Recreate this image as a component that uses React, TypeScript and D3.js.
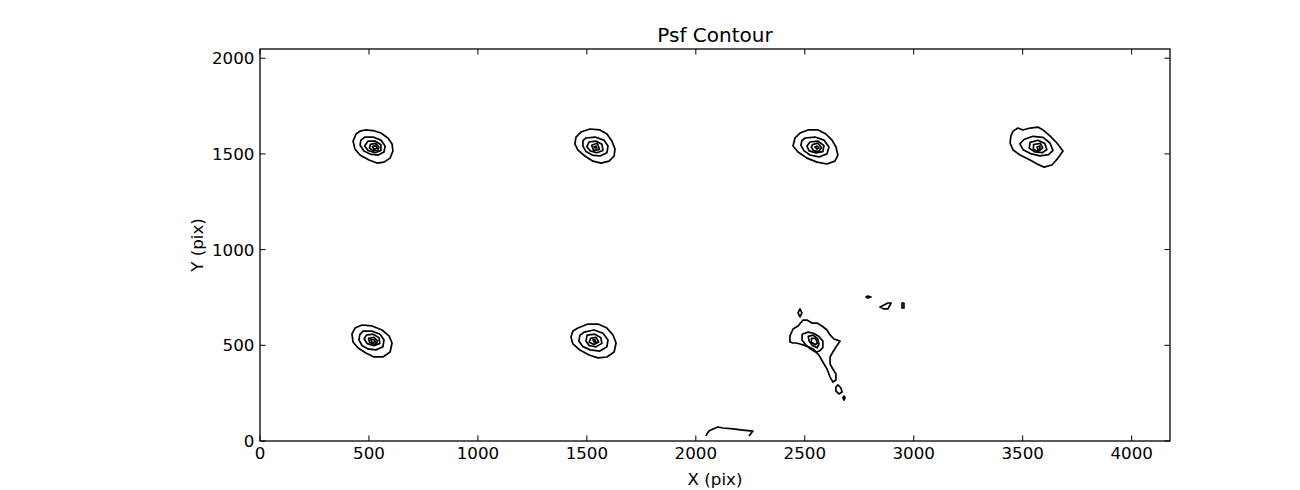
import React from "react";
import * as d3 from "d3";

type Pt = [number, number];

// Axis setup
const xDomain: [number, number] = [0, 4176];
const yDomain: [number, number] = [0, 2048];
const xTicks = [0, 500, 1000, 1500, 2000, 2500, 3000, 3500, 4000];
const yTicks = [0, 500, 1000, 1500, 2000];
const titleText = "Psf Contour";
const xLabel = "X (pix)";
const yLabel = "Y (pix)";

// Closed contour rings (data coords, pix) for each PSF, outer -> inner
const psf1: Pt[][] = [
  [[482,1625],[519,1622],[555,1609],[587,1583],[606,1552],[610,1515],[597,1478],[569,1457],[537,1452],[500,1468],[459,1494],[436,1525],[427,1567],[441,1604],[459,1619]],
  [[482,1588],[519,1588],[555,1572],[574,1541],[569,1510],[542,1494],[505,1499],[477,1515],[459,1546],[463,1572]],
  [[496,1567],[528,1567],[555,1548],[555,1518],[528,1506],[496,1518],[480,1541]],
  [[507,1550],[530,1555],[546,1536],[540,1518],[519,1516],[502,1531]],
  [[516,1538],[530,1543],[539,1531],[523,1523]],
];
const psf2: Pt[][] = [
  [[1473,1614],[1514,1630],[1560,1625],[1592,1604],[1615,1567],[1629,1525],[1625,1489],[1602,1462],[1565,1452],[1528,1462],[1491,1489],[1459,1520],[1445,1552],[1450,1588]],
  [[1496,1583],[1537,1588],[1578,1572],[1597,1541],[1592,1506],[1560,1489],[1524,1494],[1496,1512],[1482,1541],[1482,1569]],
  [[1510,1562],[1542,1567],[1569,1550],[1574,1518],[1546,1506],[1515,1516],[1500,1538]],
  [[1522,1545],[1548,1556],[1558,1524],[1531,1517]],
  [[1533,1536],[1542,1541],[1546,1531],[1537,1531]],
];
const psf3: Pt[][] = [
  [[2478,1609],[2515,1625],[2561,1625],[2597,1604],[2625,1572],[2643,1536],[2652,1494],[2638,1462],[2602,1447],[2556,1457],[2510,1478],[2469,1510],[2446,1541],[2455,1583]],
  [[2502,1583],[2547,1588],[2588,1572],[2611,1536],[2602,1500],[2565,1484],[2524,1494],[2496,1517],[2482,1546],[2487,1570]],
  [[2524,1562],[2561,1567],[2588,1543],[2583,1512],[2551,1505],[2520,1516],[2510,1541]],
  [[2536,1549],[2561,1556],[2577,1531],[2563,1512],[2540,1517],[2530,1536]],
  [[2547,1536],[2556,1541],[2565,1531],[2556,1525]],
];
const psf4: Pt[][] = [
  [[3456,1619],[3478,1635],[3501,1625],[3534,1635],[3570,1640],[3593,1625],[3625,1594],[3657,1557],[3685,1515],[3662,1478],[3634,1442],[3598,1431],[3566,1447],[3534,1468],[3488,1494],[3456,1520],[3442,1557],[3446,1594]],
  [[3506,1575],[3547,1592],[3593,1586],[3625,1557],[3639,1518],[3619,1496],[3579,1490],[3540,1500],[3502,1522],[3487,1552]],
  [[3534,1560],[3570,1571],[3601,1555],[3611,1523],[3591,1507],[3555,1511],[3530,1530]],
  [[3550,1549],[3581,1555],[3592,1531],[3571,1512],[3549,1523]],
  [[3566,1536],[3579,1541],[3579,1525],[3570,1520]],
];
const psf5: Pt[][] = [
  [[468,606],[514,601],[560,580],[592,549],[606,512],[597,465],[564,439],[523,439],[486,460],[450,486],[427,517],[422,559],[436,590]],
  [[473,574],[514,574],[551,558],[569,528],[564,492],[532,476],[496,481],[468,499],[454,528],[458,556]],
  [[488,553],[519,558],[546,540],[550,510],[523,498],[492,509],[478,533]],
  [[498,536],[523,541],[540,523],[530,504],[503,515]],
  [[508,529],[524,529],[530,517],[513,515]],
];
const psf6: Pt[][] = [
  [[1459,590],[1505,611],[1551,611],[1592,590],[1620,554],[1634,512],[1625,465],[1592,439],[1551,434],[1510,449],[1468,475],[1436,507],[1427,543],[1436,575]],
  [[1487,569],[1533,580],[1574,563],[1597,528],[1592,492],[1560,470],[1515,476],[1482,493],[1463,522],[1468,552]],
  [[1501,553],[1537,558],[1564,540],[1569,510],[1542,492],[1510,499],[1496,522]],
  [[1517,536],[1543,541],[1554,517],[1533,504],[1511,516]],
  [[1528,528],[1537,528],[1542,517],[1533,517]],
];
const psf7: Pt[][] = [
  [[2432,517],[2432,549],[2446,585],[2469,601],[2492,632],[2510,632],[2533,616],[2556,616],[2579,601],[2602,580],[2616,554],[2634,533],[2662,522],[2643,491],[2629,465],[2616,439],[2616,402],[2629,376],[2643,350],[2643,319],[2629,308],[2616,334],[2602,376],[2583,413],[2565,449],[2538,481],[2510,496],[2478,507],[2460,512],[2446,512]],
  [[2488,558],[2515,569],[2540,563],[2565,546],[2583,522],[2583,488],[2567,470],[2549,465],[2530,478],[2506,500],[2487,528]],
  [[2516,547],[2538,553],[2559,535],[2565,507],[2557,487],[2535,499],[2520,522]],
  [[2531,536],[2549,536],[2558,512],[2547,503],[2530,517]],
];
// Small isolated contour islands
const islands: Pt[][] = [
  [[2478,690],[2487,669],[2478,648],[2469,669]],
  [[2652,293],[2666,277],[2671,256],[2657,246],[2643,261],[2643,282]],
  [[2680,235],[2685,225],[2680,214],[2675,225]],
  [[2781,752],[2790,757],[2804,752],[2790,747]],
  [[2845,700],[2882,721],[2896,721],[2882,690],[2863,690]],
  [[2946,721],[2955,721],[2955,695],[2946,695]],
];
// Open contour near the bottom edge
const openLines: Pt[][] = [
  [[2047,26],[2051,37],[2060,52],[2079,63],[2102,73],[2125,68],[2171,63],[2216,57],[2262,52],[2244,26]],
];

const W = 1300;
const H = 490;
const left = 260, right = 1170, top = 49, bottom = 441;

export default function App() {
  const x = d3.scaleLinear().domain(xDomain).range([left, right]);
  const y = d3.scaleLinear().domain(yDomain).range([bottom, top]);
  const closed = d3.line<Pt>().x(d => x(d[0])).y(d => y(d[1])).curve(d3.curveLinearClosed);
  const open = d3.line<Pt>().x(d => x(d[0])).y(d => y(d[1]));
  const rings = [...psf1, ...psf2, ...psf3, ...psf4, ...psf5, ...psf6, ...psf7, ...islands];
  const font = "DejaVu Sans";
  const fs = 16.7;
  const tl = 5.6;
  return (
    <svg width={W} height={H} style={{ position: "absolute", left: 0, top: 0, background: "#fff" }}
      fontFamily={font}>
      <rect x={0} y={0} width={W} height={H} fill="#fff" />
      <g fill="none" stroke="#000" strokeWidth={1.7} strokeLinejoin="round">
        {rings.map((r, i) => <path key={"r" + i} d={closed(r) || ""} />)}
        {openLines.map((r, i) => <path key={"o" + i} d={open(r) || ""} />)}
      </g>
      <rect x={left} y={top} width={right - left} height={bottom - top} fill="none" stroke="#000" strokeWidth={1.3} />
      <g stroke="#000" strokeWidth={1}>
        {xTicks.map(t => (
          <g key={"xt" + t}>
            <line x1={x(t)} x2={x(t)} y1={bottom} y2={bottom - tl} />
            <line x1={x(t)} x2={x(t)} y1={top} y2={top + tl} />
          </g>
        ))}
        {yTicks.map(t => (
          <g key={"yt" + t}>
            <line x1={left} x2={left + tl} y1={y(t)} y2={y(t)} />
            <line x1={right} x2={right - tl} y1={y(t)} y2={y(t)} />
          </g>
        ))}
      </g>
      <g fontSize={fs} fill="#000">
        {xTicks.map(t => (
          <text key={"xl" + t} x={x(t)} y={459} textAnchor="middle">{t}</text>
        ))}
        {yTicks.map(t => (
          <text key={"yl" + t} x={left - 5.6} y={y(t) + 6} textAnchor="end">{t}</text>
        ))}
        <text x={(left + right) / 2} y={485} textAnchor="middle">{xLabel}</text>
        <text transform={`translate(203,${(top + bottom) / 2}) rotate(-90)`} textAnchor="middle">{yLabel}</text>
      </g>
      <text x={(left + right) / 2} y={42} textAnchor="middle" fontSize={20}>{titleText}</text>
    </svg>
  );
}
